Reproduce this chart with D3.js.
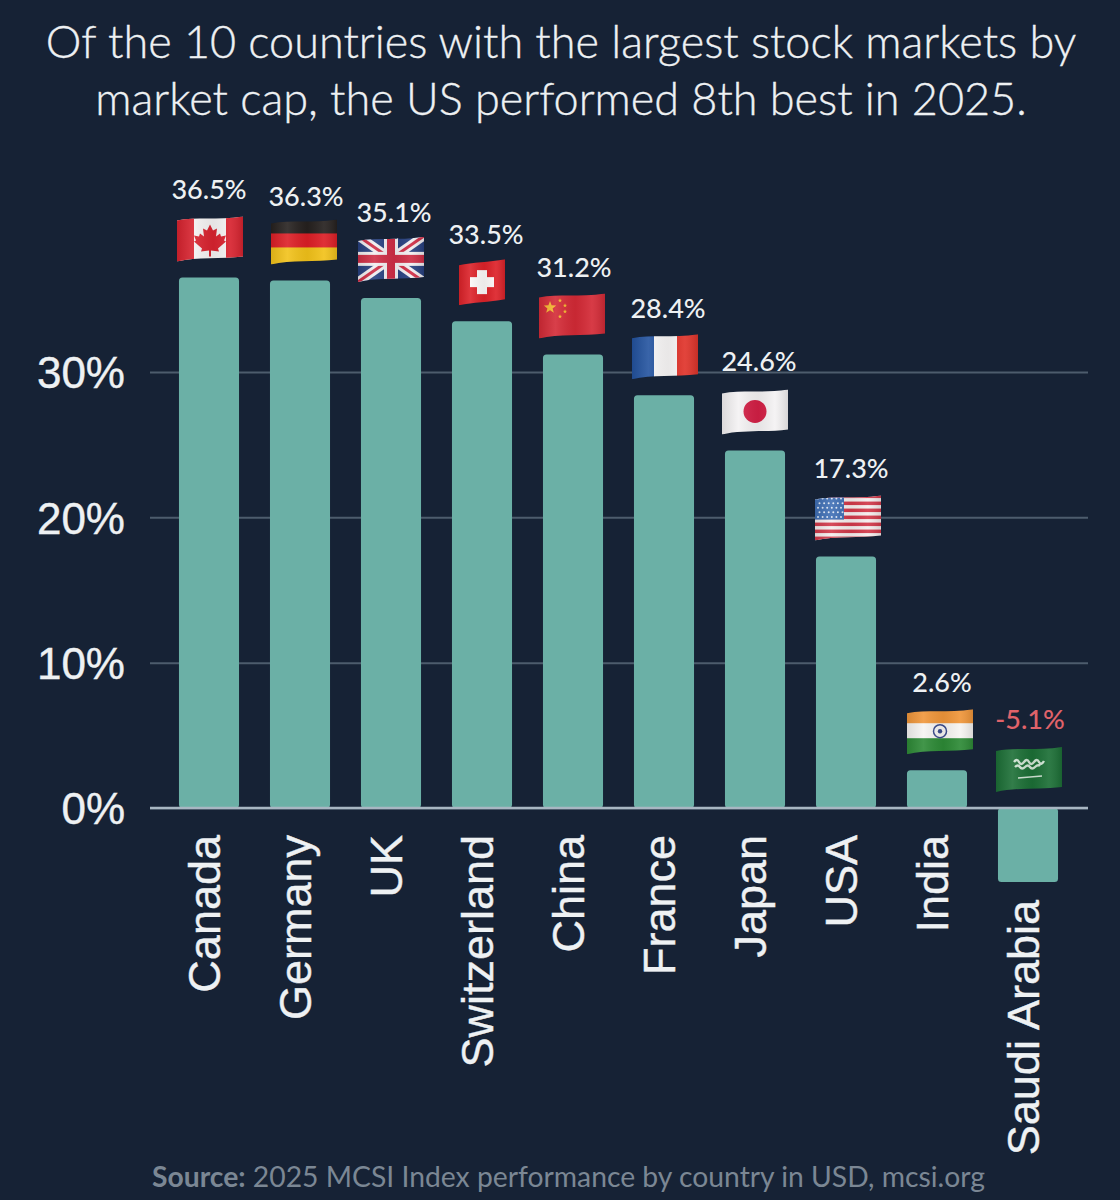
<!DOCTYPE html>
<html><head><meta charset="utf-8">
<script src="https://cdn.jsdelivr.net/npm/d3@7/dist/d3.min.js"></script>
<style>html,body{margin:0;padding:0;background:#162235}svg{display:block}</style>
</head><body><div id="chart"></div>
<script>
const countries=["Canada","Germany","UK","Switzerland","China","France","Japan","USA","India","Saudi Arabia"];
const returns=[36.5,36.3,35.1,33.5,31.2,28.4,24.6,17.3,2.6,-5.1];
const valueLabels=["36.5%","36.3%","35.1%","33.5%","31.2%","28.4%","24.6%","17.3%","2.6%","-5.1%"];
const flagCodes=["ca","de","gb","ch","cn","fr","jp","us","in","sa"];
const yTicks=[0,10,20,30];
const titleLines=["Of the 10 countries with the largest stock markets by","market cap, the US performed 8th best in 2025."];

const W=1120,H=1200,BG="#162235",BAR="#6bb0a6",TXT="#eef1f3";
const labelNudge=[0,6,3,4,1,4,4,5,5,2], flagNudge=[1,4,0,0,-1,1,0,2,3,1], labelDy=[0,5,3,2,1,2,0,0,1,0];
const svg=d3.select("#chart").append("svg").attr("width",W).attr("height",H).attr("viewBox",[0,0,W,H]);
svg.append("rect").attr("width",W).attr("height",H).attr("fill",BG);
const defs=svg.append("defs");
const x=d3.scaleBand().domain(countries).range([163.5,1073.5]).paddingInner(0.34).paddingOuter(0.17);
const y=d3.scaleLinear().domain([0,30]).range([808,372]);

// Title
svg.append("g").selectAll("text").data(titleLines).join("text")
 .attr("x",561).attr("y",(d,i)=>58+i*57).attr("text-anchor","middle")
 .attr("font-family","Lato").attr("font-size",45).attr("font-weight",300).attr("stroke",TXT).attr("stroke-width",0.35).attr("fill",TXT).text(d=>d);

// Grid + y axis
const yAxis=d3.axisLeft(y).tickValues(yTicks).tickFormat(d=>d+"%").tickSize(-938).tickPadding(25);
const gy=svg.append("g").attr("transform","translate(150,0)").call(yAxis);
gy.select(".domain").remove();
gy.selectAll(".tick line").attr("stroke","#4d5c6d").attr("stroke-width",2);
gy.selectAll(".tick text").attr("font-family","Liberation Sans").attr("font-size",44).attr("fill",TXT).attr("stroke",TXT).attr("stroke-width",0.4).attr("dy","0.36em");

// Bars
svg.append("g").selectAll("rect").data(returns).join("rect")
 .attr("x",(d,i)=>x(countries[i])).attr("width",x.bandwidth())
 .attr("y",d=>y(Math.max(d,0))).attr("height",d=>Math.abs(y(d)-y(0)))
 .attr("rx",3.5).attr("fill",BAR);

// Baseline
svg.append("line").attr("x1",150).attr("x2",1088).attr("y1",y(0)).attr("y2",y(0)).attr("stroke","#a8b6c2").attr("stroke-width",2.5);

// Category labels
const xAxis=d3.axisBottom(x).tickSize(0).tickPadding(0);
const gx=svg.append("g").attr("transform",`translate(0,${y(0)})`).call(xAxis);
gx.select(".domain").remove();
gx.selectAll(".tick line").remove();
gx.selectAll(".tick text")
 .attr("font-family","Liberation Sans").attr("font-size",45).attr("fill",TXT).attr("stroke",TXT).attr("stroke-width",0.4)
 .attr("text-anchor","end").attr("dy",null)
 .attr("transform",d=>{const v=returns[countries.indexOf(d)];return `translate(11,${v<0?92:27}) rotate(-90)`;})
 .attr("y",0).attr("x",0);

// Value labels
svg.append("g").selectAll("text").data(returns).join("text")
 .attr("x",(d,i)=>x(countries[i])+x.bandwidth()/2+labelNudge[i])
 .attr("y",(d,i)=>y(Math.max(d,0))-79+labelDy[i])
 .attr("text-anchor","middle").attr("font-family","Lato").attr("font-size",27).attr("font-weight",500)
 .attr("fill",d=>d<0?"#e0636a":TXT).text((d,i)=>valueLabels[i]);

// Flags (emoji-style, gently waved)
const wave="M0,5C20,1 40,5 66,1V41C44,44 20,41 0,46Z";
const waveNarrow="M0,6C14,3 30,3 46,0V40C30,43 14,43 0,46Z";
const sheen=defs.append("linearGradient").attr("id","sheen").attr("x1",0).attr("x2",1).attr("y1",0).attr("y2",0);
[[0,"#000",.10],[.25,"#fff",.10],[.55,"#000",.06],[.8,"#fff",.08],[1,"#000",.12]].forEach(s=>sheen.append("stop").attr("offset",s[0]).attr("stop-color",s[1]).attr("stop-opacity",s[2]));
const star=(cx,cy,r,rot=0)=>{let p=[];for(let k=0;k<10;k++){const a=rot-Math.PI/2+k*Math.PI/5,q=k%2?r*.42:r;p.push([cx+q*Math.cos(a),cy+q*Math.sin(a)]);}return p.map(v=>v.join(",")).join(" ");};
const rect=(g,x0,y0,w,h,f)=>g.append("rect").attr("x",x0).attr("y",y0).attr("width",w).attr("height",h).attr("fill",f);
const draw={
 ca(g){rect(g,0,-2,66,52,"#f4f2f2");rect(g,0,-2,17,52,"#d8232f");rect(g,49,-2,17,52,"#d8232f");
  g.append("path").attr("fill","#d8232f").attr("d","M33,9l3,6 4,-2 -1,8 4,-3 1,3 5,-1 -2,5 2,1 -8,7 1,3 -8,-1v6h-2v-6l-8,1 1,-3 -8,-7 2,-1 -2,-5 5,1 1,-3 4,3 -1,-8 4,2z");},
 de(g){rect(g,0,-2,66,18,"#26211f");rect(g,0,15,66,15,"#dd1f26");rect(g,0,29,66,20,"#f2c21a");},
 gb(g){rect(g,0,-2,66,52,"#27407f");
  [[0,0,66,46],[66,0,0,46]].forEach(l=>{g.append("line").attr("x1",l[0]).attr("y1",l[1]).attr("x2",l[2]).attr("y2",l[3]).attr("stroke","#f1eef0").attr("stroke-width",9);
   g.append("line").attr("x1",l[0]).attr("y1",l[1]).attr("x2",l[2]).attr("y2",l[3]).attr("stroke","#cf2d45").attr("stroke-width",3);});
  rect(g,26,-2,14,52,"#f1eef0");rect(g,0,16,66,14,"#f1eef0");rect(g,29,-2,8,52,"#cf2d45");rect(g,0,19,66,8,"#cf2d45");},
 ch(g){rect(g,0,-2,46,52,"#dd2229");rect(g,18,11,10,24,"#fbf8f8");rect(g,11,18,24,10,"#fbf8f8");},
 cn(g){rect(g,0,-2,66,52,"#d42a36");g.append("polygon").attr("points",star(11,15,6.5)).attr("fill","#f5b52e");
  [[21,8],[26,13],[26,19],[21,24]].forEach(c=>g.append("polygon").attr("points",star(c[0],c[1],2.2)).attr("fill","#f5b52e"));},
 fr(g){rect(g,0,-2,22,52,"#23539f");rect(g,22,-2,23,52,"#f8f6f6");rect(g,45,-2,21,52,"#e0342b");},
 jp(g){rect(g,0,-2,66,52,"#f4f2f3");g.append("circle").attr("cx",33).attr("cy",23).attr("r",11.5).attr("fill","#d31f45");},
 us(g){rect(g,0,-2,66,52,"#f5eeee");for(let k=0;k<7;k++)rect(g,0,0+k*7,66,3.5,"#d2394a");rect(g,0,-2,29,27,"#3f6fb5");
  for(let r=0;r<5;r++)for(let c=0;c<6;c++)g.append("circle").attr("cx",3+c*4.6+(r%2)*1.5).attr("cy",4+r*4.6).attr("r",1).attr("fill","#dfe8f6");},
 in(g){rect(g,0,-2,66,19,"#f0963a");rect(g,0,15,66,16,"#f6f4f2");rect(g,0,30,66,20,"#2d8a36");
  g.append("circle").attr("cx",33).attr("cy",23).attr("r",6.5).attr("fill","none").attr("stroke","#3a4a8c").attr("stroke-width",1.5);g.append("circle").attr("cx",33).attr("cy",23).attr("r",2.2).attr("fill","#3a4a8c");},
 sa(g){rect(g,0,-2,66,52,"#1c6f36");
  g.append("path").attr("d","M18,16q3,-4 5,0t5,0 5,0 5,0 5,0 5,-1M19,21q3,-3 5,0t5,0 5,0 5,0 5,-1").attr("fill","none").attr("stroke","#cfe3d3").attr("stroke-width",2.4);
  g.append("path").attr("d","M22,32L46,30").attr("stroke","#cfe3d3").attr("stroke-width",1.4);}
};
const flagG=svg.append("g");
returns.forEach((d,i)=>{
 const code=flagCodes[i],narrow=code==="ch",w=narrow?46:66;
 const cx=x(countries[i])+x.bandwidth()/2+flagNudge[i], cy=y(Math.max(d,0))-39;
 const clip="clip-"+code;
 defs.append("clipPath").attr("id",clip).append("path").attr("d",narrow?waveNarrow:wave);
 const g=flagG.append("g").attr("transform",`translate(${cx-w/2},${cy-23})`).append("g").attr("clip-path",`url(#${clip})`);
 draw[code](g);
 g.append("rect").attr("x",0).attr("y",-2).attr("width",w).attr("height",52).attr("fill","url(#sheen)");
});

// Source
const src=svg.append("text").attr("x",152).attr("y",1187).attr("font-family","Lato").attr("font-size",28.3).attr("fill","#7b8794");
src.append("tspan").attr("font-weight",700).text("Source:");
src.append("tspan").attr("font-weight",400).text(" 2025 MCSI Index performance by country in USD, mcsi.org");
</script></body></html>
